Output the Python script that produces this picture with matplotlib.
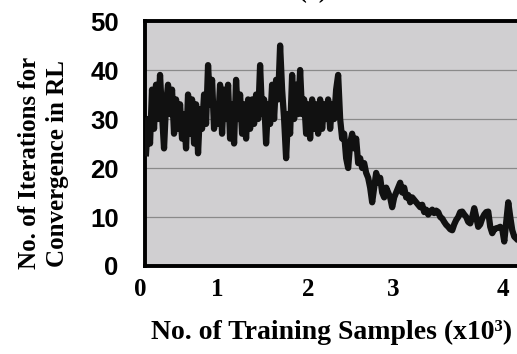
import matplotlib
matplotlib.use("Agg")
import matplotlib.pyplot as plt
import numpy as np

# iterations to converge, one value per training-sample step
iters = [
    23, 30, 25, 36, 28, 37, 30, 39, 31, 24, 33, 37, 31, 36, 27, 34, 28, 33, 26, 31,
    24, 35, 27, 34, 25, 33, 23, 32, 28, 35, 29, 41, 33, 38, 28, 33, 29, 37, 27, 36,
    30, 37, 26, 33, 25, 38,
    30, 35, 27, 33, 26, 34, 28, 34, 29, 35, 30, 41, 31, 34, 25, 33, 29, 37, 30, 38,
    34, 45, 36, 30, 22, 31, 27, 39, 30, 37, 31, 40, 31, 34, 27, 33, 26, 34, 28, 33,
    27, 34, 28, 33, 30, 34, 28, 33, 30, 36, 39,
    30, 26, 27, 22, 20, 25, 27, 24, 26, 21, 22, 20, 21, 19, 18, 16, 13, 16, 19, 17,
    18, 15, 14, 16, 15, 14, 12, 14, 15, 16, 17, 15, 16, 14, 14.5, 13, 14, 13.5, 13, 12.5,
    12, 12.5, 11, 11.5, 10.5,
    11, 11.5, 10.8, 11.3, 11, 10, 9.7, 9, 8.4, 8, 7.5, 7.3, 8.5, 9.4, 10, 11, 11.1, 10.5,
    10, 9, 8.7, 10, 11.8, 10, 8, 8.5, 9.7, 10.5, 11, 11.1, 8, 6.7, 7.5, 7.7, 7.8, 8,
    7.5, 5, 9, 13, 10, 7.3, 6, 5.6,
]
xtick_pos = [0, 35.5, 81, 123.5, 178.5]
xtick_labels = ["0", "1", "2", "3", "4"]
yticks = [0, 10, 20, 30, 40, 50]

serif = "Liberation Serif"
sans = "Liberation Sans"

fig = plt.figure(figsize=(5.17, 3.54), dpi=100)
ax = fig.add_axes([0.2805, 0.2486, 0.72, 0.692])
ax.set_facecolor("#d0cfd1")

x = np.arange(len(iters))
ax.plot(x, iters, color="#111111", lw=4.5, solid_joinstyle="round", zorder=3)

ax.set_xlim(-0.5, 185.5)
ax.set_ylim(0, 50)
ax.set_yticks(yticks)
ax.set_yticklabels([str(v) for v in yticks], fontfamily=sans, fontweight="bold",
                   fontsize=18.5)
ax.set_xticks(xtick_pos)
ax.set_xticklabels(xtick_labels, fontfamily=serif, fontweight="bold", fontsize=18)
ax.get_xticklabels()[0].set_ha("right")
ax.tick_params(axis="y", length=0, pad=19)
ax.tick_params(axis="x", length=0, pad=9)

ax.grid(axis="y", color="#8a8a8a", lw=0.9)
ax.set_axisbelow(True)
for side in ["left", "top", "bottom"]:
    ax.spines[side].set_linewidth(2.8)
    ax.spines[side].set_color("black")
ax.spines["right"].set_visible(False)

ax.set_xlabel("No. of Training Samples (x10³)", fontfamily=serif,
              fontweight="bold", fontsize=20, labelpad=13)
ax.set_ylabel("No. of Iterations for\nConvergence in RL", fontfamily=serif,
              fontweight="bold", fontsize=18, linespacing=1.25)
ax.yaxis.set_label_coords(-0.205, 0.42)

fig.text(0.605, 0.992, "(a)", fontfamily=serif, fontweight="bold", fontsize=17,
         ha="center", va="bottom")

fig.savefig("out.png", dpi=100)
